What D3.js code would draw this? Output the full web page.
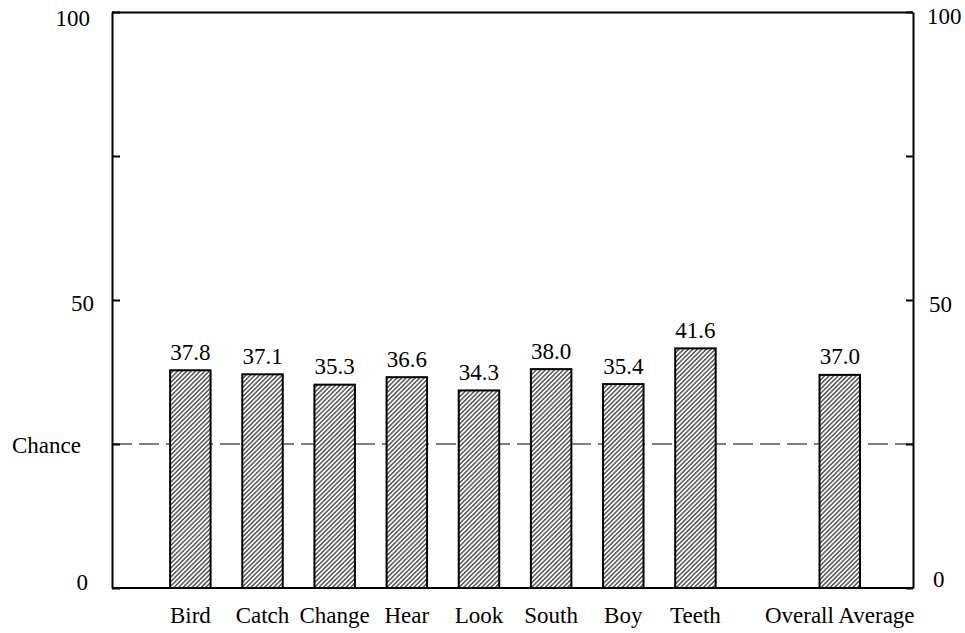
<!DOCTYPE html>
<html>
<head>
<meta charset="utf-8">
<script src="https://cdn.jsdelivr.net/npm/d3@7"></script>
<style>
  html, body { margin: 0; padding: 0; background: #fff; }
  svg { display: block; }
</style>
</head>
<body>
<svg id="chart" width="965" height="633"></svg>
<script>
// ---- data ----
const categories = ["Bird", "Catch", "Change", "Hear", "Look", "South", "Boy", "Teeth", "", "Overall Average"];
const values = [37.8, 37.1, 35.3, 36.6, 34.3, 38.0, 35.4, 41.6, null, 37.0];
const valueLabels = ["37.8", "37.1", "35.3", "36.6", "34.3", "38.0", "35.4", "41.6", "", "37.0"];
const yTickValues = [0, 25, 50, 75, 100];
const leftTickLabels = ["0", "Chance", "50", "", "100"];
const rightTickLabels = ["0", "", "50", "", "100"];
const chanceLevel = 25;

// ---- layout ----
const FONT = "'Liberation Serif', 'Times New Roman', Times, serif";
const FS = 23;
const svg = d3.select("#chart");
const L = 112, R = 913, T = 12, B = 588;

const x = d3.scaleBand()
  .domain(categories)
  .range([L, R])
  .paddingInner(0.439)
  .paddingOuter(0.77)
  .align(0.523);

const y = d3.scaleLinear().domain([0, 100]).range([B, T]);

// hatch pattern
const defs = svg.append("defs");
const pat = defs.append("pattern")
  .attr("id", "hatch")
  .attr("patternUnits", "userSpaceOnUse")
  .attr("width", 3.2)
  .attr("height", 10)
  .attr("patternTransform", "rotate(45)");
pat.append("rect").attr("width", 3.2).attr("height", 10).attr("fill", "#fff");
pat.append("line")
  .attr("x1", 0.8).attr("y1", 0).attr("x2", 0.8).attr("y2", 10)
  .attr("stroke", "#000").attr("stroke-width", 1.0);

// chance line
svg.append("line")
  .attr("x1", L).attr("x2", R)
  .attr("y1", y(chanceLevel)).attr("y2", y(chanceLevel))
  .attr("stroke", "#555").attr("stroke-width", 1.6)
  .attr("stroke-dasharray", "20,7");

// bars
const data = categories.map((c, i) => ({ c, v: values[i], lab: valueLabels[i] })).filter(d => d.v !== null);

svg.append("g").selectAll("rect").data(data).join("rect")
  .attr("x", d => x(d.c))
  .attr("width", x.bandwidth())
  .attr("y", d => y(d.v))
  .attr("height", d => y(0) - y(d.v))
  .attr("fill", "url(#hatch)")
  .attr("stroke", "#000")
  .attr("stroke-width", 2);

svg.append("g").selectAll("text").data(data).join("text")
  .attr("x", d => x(d.c) + x.bandwidth() / 2)
  .attr("y", d => y(d.v) - 10.5)
  .attr("text-anchor", "middle")
  .attr("font-family", FONT).attr("font-size", FS).attr("fill", "#000")
  .text(d => d.lab);

// frame
svg.append("line").attr("x1", L).attr("x2", R).attr("y1", T + 0.5).attr("y2", T + 0.5)
  .attr("stroke", "#000").attr("stroke-width", 2);
svg.append("line").attr("x1", L).attr("x2", R).attr("y1", B).attr("y2", B)
  .attr("stroke", "#000").attr("stroke-width", 2);

// left axis
const leftOff = { 0: { dx: -3, dy: -6 }, 25: { dx: -10, dy: 1 }, 50: { dx: 3, dy: 3 }, 100: { dx: -1, dy: 6 } };
const gl = svg.append("g").attr("transform", `translate(${L},0)`)
  .call(d3.axisLeft(y).tickValues(yTickValues).tickSizeInner(-8).tickSizeOuter(0).tickPadding(21)
    .tickFormat((d, i) => leftTickLabels[i]));
gl.attr("font-family", FONT).attr("font-size", FS);
gl.select(".domain").attr("stroke", "#000").attr("stroke-width", 2);
gl.selectAll(".tick line").attr("stroke", "#000").attr("stroke-width", 2);
gl.selectAll(".tick text")
  .attr("font-family", FONT).attr("font-size", FS).attr("fill", "#000")
  .each(function(d) {
    const o = leftOff[d] || { dx: 0, dy: 0 };
    d3.select(this).attr("dy", null).attr("dx", o.dx).attr("y", 7.4 + o.dy);
  });

// right axis
const rightOff = { 0: { dx: 6, dy: -9 }, 50: { dx: 2, dy: 4 }, 100: { dx: 0, dy: 4 } };
const gr = svg.append("g").attr("transform", `translate(${R},0)`)
  .call(d3.axisRight(y).tickValues(yTickValues).tickSizeInner(-7).tickSizeOuter(0).tickPadding(14)
    .tickFormat((d, i) => rightTickLabels[i]));
gr.attr("font-family", FONT).attr("font-size", FS);
gr.select(".domain").attr("stroke", "#000").attr("stroke-width", 2);
gr.selectAll(".tick line").attr("stroke", "#000").attr("stroke-width", 2);
gr.selectAll(".tick text")
  .attr("font-family", FONT).attr("font-size", FS).attr("fill", "#000")
  .each(function(d) {
    const o = rightOff[d] || { dx: 0, dy: 0 };
    d3.select(this).attr("dy", null).attr("dx", o.dx).attr("y", 7.4 + o.dy);
  });

// bottom category labels
svg.append("g").selectAll("text").data(categories.filter(c => c !== "")).join("text")
  .attr("x", d => x(d) + x.bandwidth() / 2)
  .attr("y", B + 35)
  .attr("text-anchor", "middle")
  .attr("font-family", FONT).attr("font-size", FS).attr("fill", "#000")
  .text(d => d);
</script>
</body>
</html>
